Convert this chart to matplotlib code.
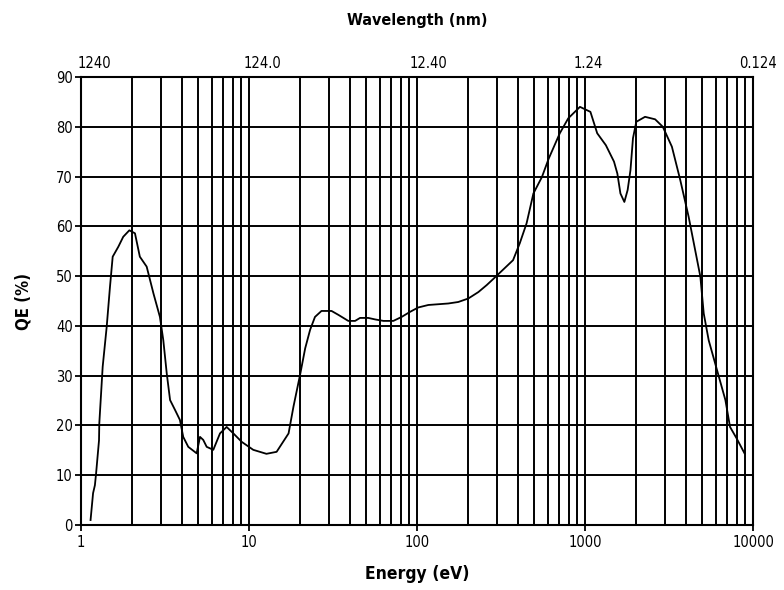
import matplotlib
matplotlib.use("Agg")
import matplotlib.pyplot as plt
from matplotlib.ticker import FixedLocator, NullFormatter

plt.rcParams['font.family'] = ['DejaVu Sans']
plt.rcParams['font.stretch'] = 'condensed'

energy_ev = [1.14, 1.18, 1.21, 1.23, 1.28, 1.285, 1.346, 1.422, 1.488, 1.544, 1.668, 1.784, 1.94,
             2.095, 2.24, 2.46, 2.70, 2.95, 3.09, 3.24, 3.39, 3.63, 3.88, 4.06, 4.35, 4.88,
             5.11, 5.34, 5.60, 6.13, 6.72, 7.36, 8.07, 9.05, 10.6, 12.7, 14.6, 17.2, 18.4,
             20.2, 21.6, 23.1, 24.7, 27.0, 31.0, 34.1, 39.0, 42.8, 45.8, 51.3, 56.3, 63.1,
             72.3, 81.0, 90.7, 101.7, 116.8, 153.5, 176, 202, 232, 260, 286, 373, 409, 449,
             493, 554, 608, 708, 795, 933, 1077, 1182, 1331, 1488, 1558, 1625, 1715, 1794,
             1865, 1930, 2020, 2277, 2615, 2905, 3290, 3690, 4140, 4860, 5090, 5450, 6110,
             6850, 7300, 7990, 8900]
qe_pct = [1.0, 6.4, 8.0, 10.4, 17.0, 20.4, 31.8, 39.8, 47.9, 53.9, 55.9, 57.9, 59.2,
          58.6, 53.9, 51.9, 46.5, 41.8, 37.1, 30.4, 25.1, 23.1, 21.1, 17.7, 15.7, 14.4,
          17.7, 17.1, 15.7, 15.1, 18.4, 19.7, 18.4, 16.7, 15.1, 14.3, 14.7, 18.4, 23.8,
          30.4, 35.5, 39.2, 41.8, 43.0, 43.0, 42.2, 41.0, 41.0, 41.6, 41.6, 41.3, 41.0,
          41.0, 41.8, 42.8, 43.7, 44.2, 44.5, 44.8, 45.5, 46.8, 48.2, 49.5, 53.2, 56.6, 60.6,
          66.6, 69.9, 73.6, 78.7, 81.7, 84.0, 83.0, 78.7, 76.3, 73.0, 70.6, 66.6, 64.9, 67.3,
          71.3, 77.7, 81.0, 82.0, 81.5, 80.0, 76.0, 69.3, 61.9, 49.9, 42.5, 37.1, 31.1,
          25.1, 19.7, 17.4, 14.4]

energy_ticks = [1, 10, 100, 1000, 10000]
energy_labels = ["1", "10", "100", "1000", "10000"]
wavelength_labels = ["1240", "124.0", "12.40", "1.24", "0.124"]
wl_offsets = [13, 13, 11, 3, 5]
y_ticks = list(range(0, 91, 10))

fig = plt.figure(figsize=(7.84, 5.90), dpi=100)
ax = fig.add_axes([81/784, 1 - 525/590, 672/784, 448/590])
ax.set_xscale('log')
ax.set_xlim(1, 10000)
ax.set_ylim(0, 90)

ax.plot(energy_ev, qe_pct, color='black', lw=1.3)

ax.xaxis.set_major_locator(FixedLocator(energy_ticks))
ax.set_xticklabels(energy_labels)
ax.xaxis.set_minor_formatter(NullFormatter())
ax.tick_params(axis='x', which='minor', length=0)
ax.tick_params(axis='x', which='major', length=4, width=1.3, labelsize=10.5, pad=3)
ax.set_yticks(y_ticks)
ax.tick_params(axis='y', length=4, width=1.3, labelsize=10.5, pad=2)

ax.grid(True, which='both', axis='x', color='black', lw=1.4)
ax.grid(True, which='major', axis='y', color='black', lw=1.4)
ax.set_axisbelow(True)
for s in ax.spines.values():
    s.set_linewidth(1.5)

for e, lab, off in zip(energy_ticks, wavelength_labels, wl_offsets):
    ax.annotate(lab, xy=(e, 90), xytext=(off * 0.72, 4), textcoords='offset points',
                ha='center', va='bottom', fontsize=10.5)

ax.set_xlabel("Energy (eV)", fontsize=12.5, fontweight='bold', labelpad=11)
ax.set_ylabel("QE (%)", fontsize=12, fontweight='bold', labelpad=17)
fig.text(417/784, 1 - 21/590, "Wavelength (nm)", ha='center', va='center',
         fontsize=11.5, fontweight='bold')

fig.savefig("out.png", dpi=100, facecolor='white')
